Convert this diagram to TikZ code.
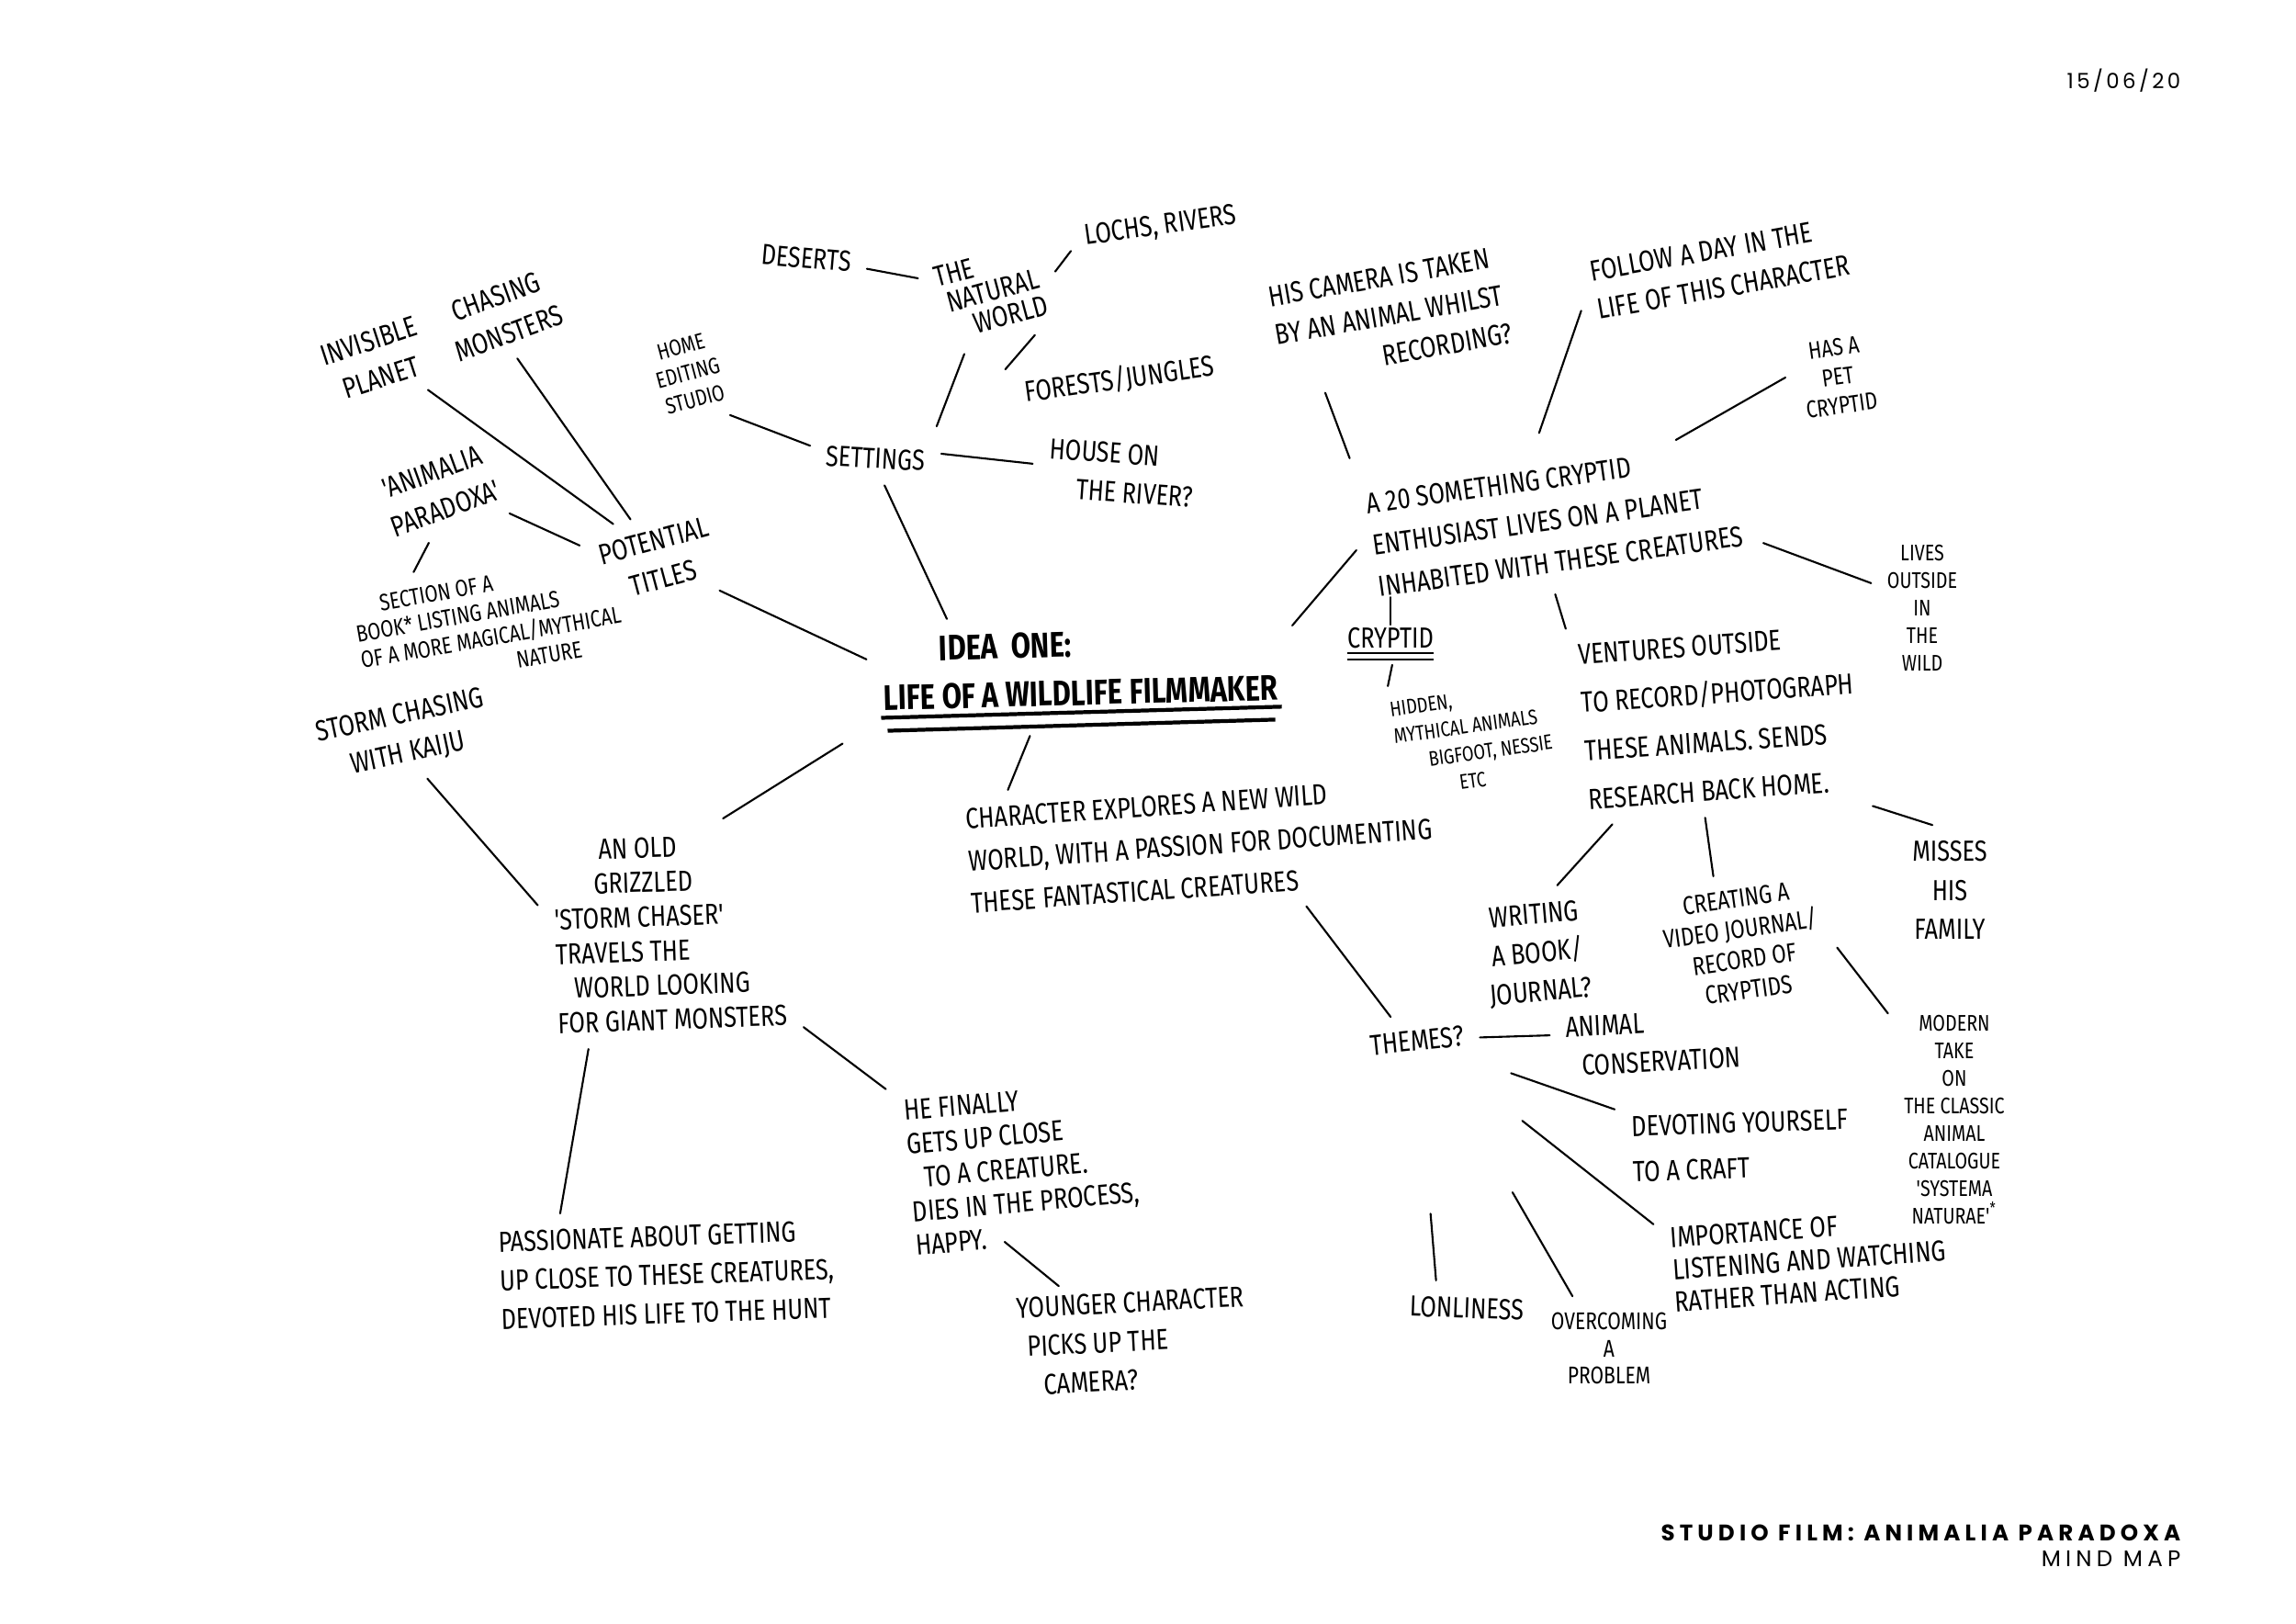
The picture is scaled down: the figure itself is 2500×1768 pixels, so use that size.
\documentclass[tikz,border=0pt]{standalone}
\usepackage{fontspec}
\newfontfamily\handfont[FakeStretch=0.8]{Fira Sans}
\newfontfamily\headfont[LetterSpace=15]{Poppins}
\newfontfamily\footfont[LetterSpace=21]{Poppins}
\begin{document}
\begin{tikzpicture}[x=0.1mm,y=-0.1mm,
  note/.style={font=\handfont\fontsize{9}{12}\selectfont, align=center, inner sep=1pt, outer sep=4pt},
  small note/.style={note, font=\handfont\fontsize{7}{8.5}\selectfont},
  tiny note/.style={note, font=\handfont\fontsize{6.5}{8.5}\selectfont},
  link/.style={line width=0.6pt, line cap=round}]
\useasboundingbox (0,0) rectangle (2500,1768);
%page header and footer
\node[anchor=east, inner sep=0pt, font=\headfont\fontsize{6.5}{8}\selectfont] (date) at (2375,88) {15/06/20};
\node[anchor=east, inner sep=0pt, font=\footfont\bfseries\fontsize{7}{8}\selectfont] (sheet) at (2375,1669) {STUDIO FILM: ANIMALIA PARADOXA};
\node[anchor=east, inner sep=0pt, font=\footfont\fontsize{7}{8}\selectfont] (sheetsub) at (2375,1697) {MIND MAP};
%central idea and double underline
\node[note, rotate=1.5, align=left, font=\handfont\bfseries\fontsize{11}{15}\selectfont] (main) at (1176,728) {\hspace*{1.6em}IDEA~~ONE:\\LIFE OF A WILDLIFE FILMMAKER};
\draw[line width=1.2pt] ([xshift=4pt,yshift=3pt]main.south west) -- ([xshift=-4pt,yshift=3pt]main.south east);
\draw[line width=1.2pt] ([xshift=6pt,yshift=-1pt]main.south west) -- ([xshift=-6pt,yshift=-1pt]main.south east);
%settings branch
\node[note, rotate=-3] (settings) at (953,499) {SETTINGS};
\node[small note, rotate=15] (studio) at (749,406) {HOME\\EDITING\\STUDIO};
\node[note, rotate=15, align=left, font=\handfont\fontsize{9}{8.5}\selectfont] (natural) at (1079,317) {THE\\\hspace*{0.2em}NATURAL\\\hspace*{0.9em}WORLD};
\node[note, rotate=-5] (deserts) at (878,281) {DESERTS};
\node[note, rotate=8] (lochs) at (1264,247) {LOCHS, RIVERS};
\node[note, rotate=8] (forests) at (1219,413) {FORESTS/JUNGLES};
\node[note, rotate=-4, align=left] (house) at (1221,515) {HOUSE ON\\\hspace*{1em}THE RIVER?};
\draw[link] (main.158) -- (settings.-68);
\draw[link] (settings.172) -- (studio.-60);
\draw[link, shorten <=1mm] (settings.25) -- (natural.-128);
\draw[link] (settings.7) -- (house.178);
\draw[link] (natural.155) -- (deserts.-5);
\draw[link] (natural.2) -- (lochs.-173);
\draw[link] (natural.-60) -- (forests.167);
%potential titles branch
\node[note, rotate=15] (titles) at (717,609) {POTENTIAL\\TITLES};
\node[note, rotate=18] (invisible) at (408,391) {INVISIBLE\\PLANET};
\node[note, rotate=20] (chasing) at (547,343) {CHASING\\MONSTERS};
\node[note, rotate=20] (animalia) at (478,534) {'ANIMALIA\\PARADOXA'};
\node[small note, rotate=10, align=left, font=\handfont\fontsize{7.3}{8.3}\selectfont] (section) at (532,680) {\hspace*{1.2em}SECTION OF A\\BOOK* LISTING ANIMALS\\OF A MORE MAGICAL/MYTHICAL\\\hspace*{6.5em}NATURE};
\draw[link] (main.176) -- (titles.-42);
\draw[link] (titles.127) -- (invisible.-48);
\draw[link] (titles.110) -- (chasing.-91);
\draw[link] (titles.155) -- (animalia.-38);
\draw[link] (animalia.-121) -- (section.135);
%storm chaser branch
\node[note, rotate=12] (storm) at (440,800) {STORM CHASING\\WITH KAIJU};
\node[note, rotate=2, align=left, font=\handfont\fontsize{9}{10.7}\selectfont] (grizzled) at (729,1016) {\hspace*{1.6em}AN OLD\\\hspace*{1.4em}GRIZZLED\\'STORM CHASER'\\TRAVELS THE\\\hspace*{0.6em}WORLD LOOKING\\FOR GIANT MONSTERS};
\node[note, rotate=2, align=left] (passionate) at (726,1388) {PASSIONATE ABOUT GETTING\\UP CLOSE TO THESE CREATURES,\\DEVOTED HIS LIFE TO THE HUNT};
\node[note, rotate=5, align=left, font=\handfont\fontsize{9}{10.5}\selectfont] (finally) at (1114,1272) {HE FINALLY\\GETS UP CLOSE\\\hspace*{0.5em}TO A CREATURE.\\DIES IN THE PROCESS,\\HAPPY.};
\node[note, rotate=3, align=left] (younger) at (1233,1460) {YOUNGER CHARACTER\\\hspace*{0.3em}PICKS UP THE\\\hspace*{0.8em}CAMERA?};
\draw[link, shorten <=3.3mm] (main.south west) -- (grizzled.63);
\draw[link] (storm.-74) -- (grizzled.166);
\draw[link] (grizzled.-127) -- (passionate.148);
\draw[link] (grizzled.-37) -- (finally.145);
\draw[link, shorten <=-10pt, shorten >=-3pt] (finally.-91) -- (younger.140);
%character explores and themes
\node[note, rotate=4, align=left, font=\handfont\fontsize{9}{13}\selectfont] (character) at (1307,920) {CHARACTER EXPLORES A NEW WILD\\WORLD, WITH A PASSION FOR DOCUMENTING\\THESE FANTASTICAL CREATURES};
\node[note, rotate=6] (themes) at (1543,1133) {THEMES?};
\node[note, rotate=3, align=left] (conservation) at (1800,1135) {ANIMAL\\\hspace*{0.5em}CONSERVATION};
\node[note, rotate=2, align=left, font=\handfont\fontsize{9}{14}\selectfont] (devoting) at (1895,1247) {DEVOTING YOURSELF\\TO A CRAFT};
\node[note, rotate=4, align=left, font=\handfont\fontsize{9}{10}\selectfont] (importance) at (1970,1372) {IMPORTANCE OF\\LISTENING AND WATCHING\\RATHER THAN ACTING};
\node[note, rotate=-2] (loneliness) at (1597,1424) {LONLINESS};
\node[note, font=\handfont\fontsize{7.5}{8.5}\selectfont] (overcoming) at (1752,1468) {OVERCOMING\\A\\PROBLEM};
\draw[link, shorten <=1.5mm] (main.-131) -- (character.160);
\draw[link] (character.-34) -- (themes.132);
\draw[link] (themes.-3) -- (conservation.173);
\draw[link, shorten <=4mm] (themes.-25) -- (devoting.162);
\draw[link, shorten <=10mm] (themes.-41) -- (importance.163);
\draw[link, shorten <=16mm] (themes.-93) -- (loneliness.140);
\draw[link, shorten <=16mm] (themes.-54) -- (overcoming.125);
%cryptid enthusiast branch
\node[note, rotate=8, align=left, inner sep=0pt, outer sep=1pt, font=\handfont\fontsize{9}{13}\selectfont] (enthusiast) at (1693,566) {A 20 SOMETHING CRYPTID\\ENTHUSIAST LIVES ON A PLANET\\INHABITED WITH THESE CREATURES};
\node[note, rotate=10, align=left] (camera) at (1514,343) {HIS CAMERA IS TAKEN\\BY AN ANIMAL WHILST\\\hspace*{3.5em}RECORDING?};
\node[note, rotate=10, align=left] (follow) at (1873,292) {FOLLOW A DAY IN THE\\LIFE OF THIS CHARACTER};
\node[small note, rotate=8, font=\handfont\fontsize{7.5}{9}\selectfont] (pet) at (2001,410) {HAS A\\PET\\CRYPTID};
\node[small note] (lives) at (2093,662) {LIVES\\OUTSIDE\\IN\\THE\\WILD};
\node[note, outer sep=0pt] (cryptid) at (1514,702) {\underline{\underline{CRYPTID}}};
\node[tiny note, rotate=8, align=left] (hidden) at (1604,805) {HIDDEN,\\MYTHICAL ANIMALS\\\hspace*{1.5em}BIGFOOT, NESSIE\\\hspace*{2.8em}ETC};
\node[note, rotate=4, align=left, font=\handfont\fontsize{9}{15}\selectfont] (ventures) at (1872,781) {VENTURES OUTSIDE\\TO RECORD/PHOTOGRAPH\\THESE ANIMALS. SENDS\\RESEARCH BACK HOME.};
\node[note, rotate=5] (writing) at (1674,1039) {WRITING\\A BOOK/\\JOURNAL?};
\node[small note, rotate=8, font=\handfont\fontsize{8}{9.5}\selectfont] (creating) at (1897,1028) {CREATING A\\VIDEO JOURNAL/\\RECORD OF\\CRYPTIDS};
\node[note] (misses) at (2123,969) {MISSES\\HIS\\FAMILY};
\node[small note] (modern) at (2128,1219) {MODERN\\TAKE\\ON\\THE CLASSIC\\ANIMAL\\CATALOGUE\\'SYSTEMA\\NATURAE'\textsuperscript{*}};
\draw[link, shorten >=2mm] (main.10) -- (enthusiast.177);
\draw[link, shorten <=3.8mm] (enthusiast.north west) -- (camera.-140);
\draw[link, shorten <=4mm] (enthusiast.110) -- (follow.-173);
\draw[link, shorten <=2mm] (enthusiast.26) -- (pet.173);
\draw[link, shorten <=2mm] (enthusiast.-13) -- (lives.154);
\draw[link, shorten >=-0.4mm] (cryptid.north) -- (cryptid.north |- enthusiast.south west);
\draw[link] (cryptid.-85) -- (hidden.140);
\draw[link, shorten <=2mm] (enthusiast.-103) -- (ventures.146);
\draw[link] (ventures.-139) -- (writing.69);
\draw[link] (ventures.-102) -- (creating.105);
\draw[link] (ventures.-34) -- (misses.105);
\draw[link] (creating.-10) -- (modern.122);
\end{tikzpicture}
\end{document}
